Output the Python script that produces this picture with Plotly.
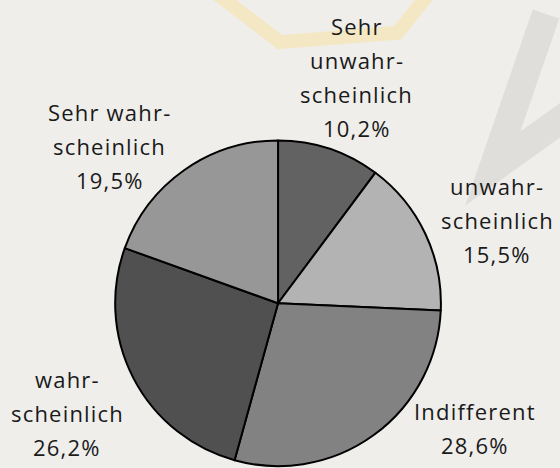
import plotly.graph_objects as go

names = ["Sehr unwahr-scheinlich", "unwahr-scheinlich", "Indifferent",
         "wahr-scheinlich", "Sehr wahr-scheinlich"]
label_lines = [["Sehr", "unwahr-", "scheinlich"], ["unwahr-", "scheinlich"], ["Indifferent"],
               ["wahr-", "scheinlich"], ["Sehr wahr-", "scheinlich"]]
values = [10.2, 15.5, 28.6, 26.2, 19.5]
colors = ["#626262", "#b3b3b3", "#828282", "#505050", "#979797"]

# label anchor (paper coords) - layout only
label_pos = [(0.637, 0.836), (0.888, 0.530), (0.848, 0.086), (0.120, 0.118), (0.196, 0.688)]
LINE_PX = 34

fig = go.Figure(go.Pie(
    labels=names,
    values=values,
    sort=False,
    direction="clockwise",
    rotation=0,
    marker=dict(colors=colors, line=dict(color="#000000", width=2)),
    textinfo="none",
    hoverinfo="label+percent",
    showlegend=False,
    domain=dict(x=[0.200, 0.793], y=[0.004, 0.70]),
))

total = sum(values)
annotations = []
for lines, v, (px, py) in zip(label_lines, values, label_pos):
    pct = f"{v / total * 100:.1f}%".replace(".", ",")
    all_lines = lines + [pct]
    n = len(all_lines)
    for i, t in enumerate(all_lines):
        annotations.append(dict(
            x=px, y=py, xref="paper", yref="paper",
            text=f'<span style="letter-spacing:1.2px">{t}</span>',
            showarrow=False, xanchor="center", yanchor="middle",
            yshift=((n - 1) / 2 - i) * LINE_PX,
            font=dict(family="Open Sans", size=22, color="#1a1a1a"),
        ))

fig.update_layout(
    width=560, height=468,
    margin=dict(l=0, r=0, t=0, b=0),
    paper_bgcolor="#efeeeb",
    plot_bgcolor="#efeeeb",
    separators=",.",
    annotations=annotations,
    shapes=[
        dict(type="path", xref="paper", yref="paper",
             path="M 0.38 1.02 L 0.50 0.91 L 0.71 0.93 L 0.77 1.02",
             line=dict(color="#f4e8c4", width=14), layer="below"),
        dict(type="path", xref="paper", yref="paper",
             path="M 0.975 0.97 L 0.88 0.64 L 1.02 0.76",
             line=dict(color="#dfdedb", width=28), layer="below"),
    ],
)

fig.write_html("out.html", config={"displayModeBar": False},
               post_script="document.body.style.margin='0';")
